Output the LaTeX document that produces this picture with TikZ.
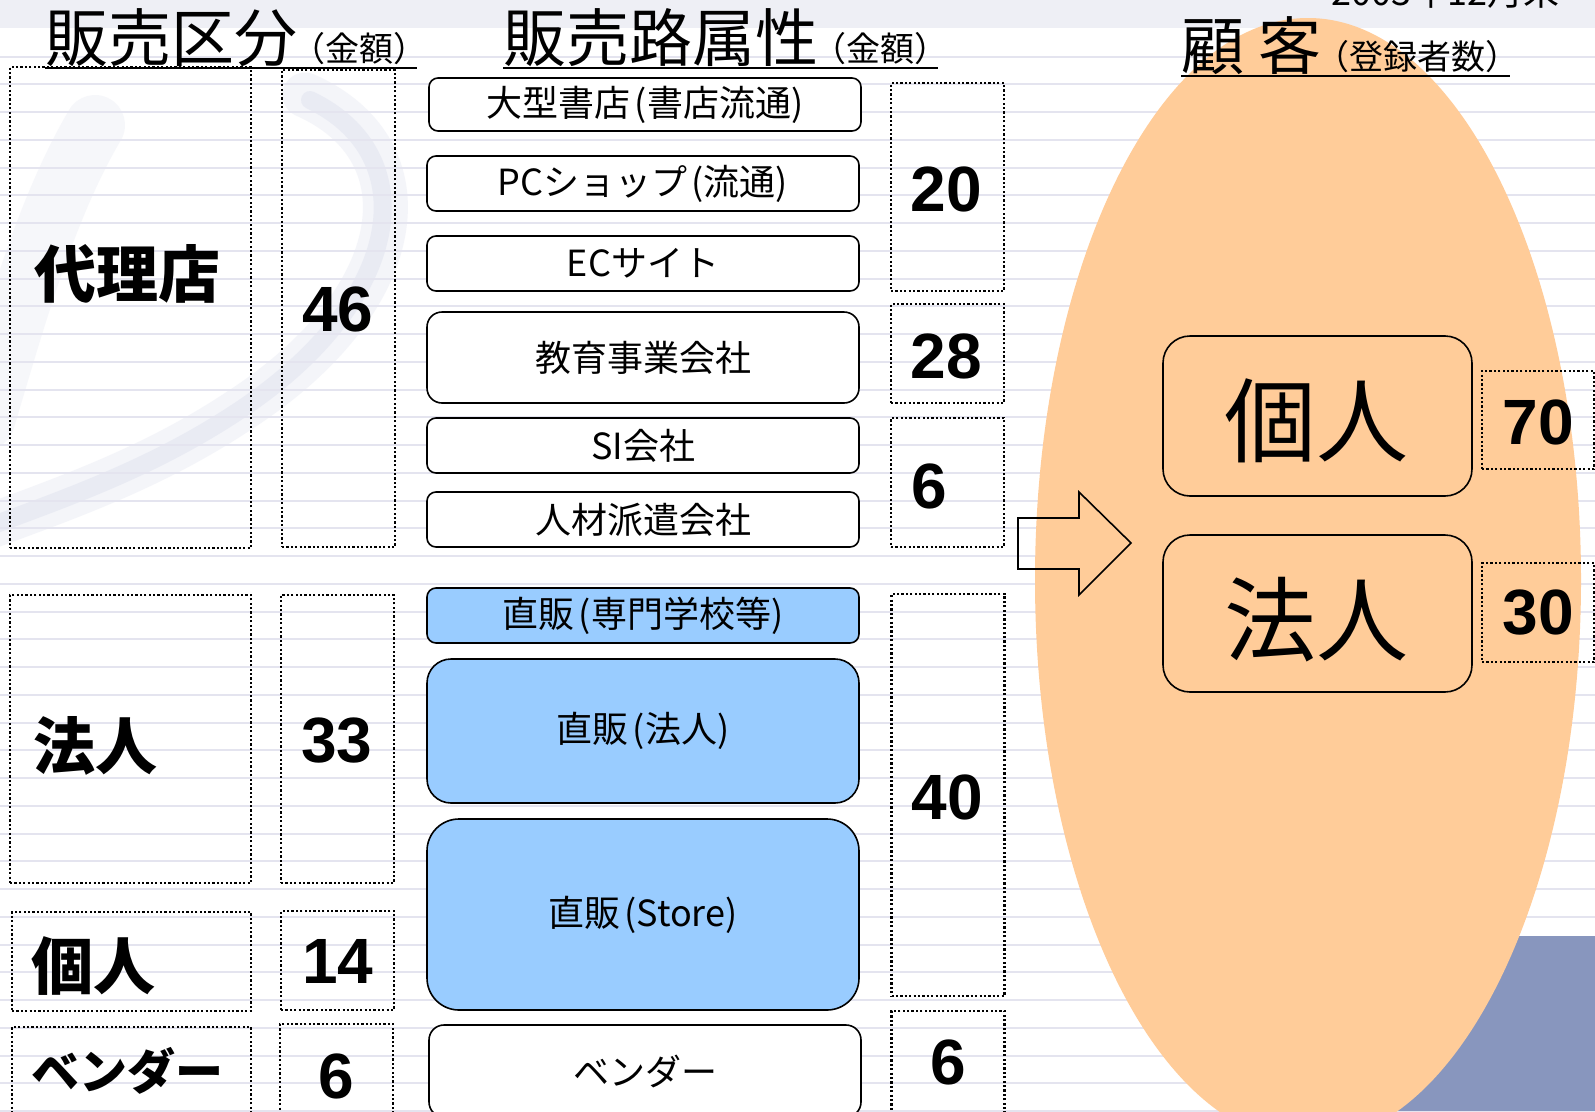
\documentclass[tikz,border=0pt]{standalone}
\usepackage{fontspec}
\setmainfont{Liberation Sans}
\newfontfamily\jpfont{Noto Sans CJK JP}
\usetikzlibrary{positioning}

\definecolor{bandgray}{HTML}{EEEFF5}
\definecolor{rulegray}{HTML}{E4E4EF}
\definecolor{swoosh}{HTML}{D5DAEA}
\definecolor{paleorange}{HTML}{FFCC99}
\definecolor{paleblue}{HTML}{99CCFF}
\definecolor{slateblue}{HTML}{8896BE}

\newcommand{\bigtitle}[1]{{\fontsize{63}{65}\selectfont #1}}
\newcommand{\smalltitle}[1]{{\kern-6pt\fontsize{34}{36}\selectfont #1}}

\begin{document}
\begin{tikzpicture}[x=1pt, y=-1pt, font=\jpfont]

        % Setup the styles for the boxes and the texts
        \tikzset{dotbox/.style={draw, line width=2.2pt,
                                dash pattern=on 2.2pt off 2.2pt,
                                inner sep=0pt},
                 routebox/.style={draw, line width=1.6pt, fill=white,
                                  inner sep=0pt, minimum width=432pt,
                                  rounded corners=9pt,
                                  font=\jpfont\fontsize{36}{38}\selectfont},
                 directbox/.style={routebox, fill=paleblue},
                 custbox/.style={draw, line width=1.6pt, inner sep=0pt,
                                 minimum width=309pt, rounded corners=27pt,
                                 font=\jpfont\fontsize{92}{96}\selectfont},
                 numtext/.style={inner sep=0pt,
                                 font=\normalfont\bfseries\fontsize{64}{70}\selectfont},
                 catlabel/.style={anchor=west, inner sep=0pt,
                                  font=\jpfont\bfseries\fontsize{62}{64}\selectfont},
                 headbig/.style={anchor=base west, inner sep=0pt}}

        \useasboundingbox (0,0) rectangle (1595,1111);
        \clip (0,0) rectangle (1595,1111);

        % Draw the background
        \fill[white] (0,0) rectangle (1595,1111);
        \draw[swoosh, line width=60pt, line cap=round, opacity=0.2]
            (95,125) .. controls (45,210) and (15,320) .. (-15,420);
        \draw[swoosh, line width=45pt, line cap=round, opacity=0.25]
            (305,95) .. controls (430,150) and (410,300) .. (240,410)
            .. controls (150,470) and (60,500) .. (-20,530);
        \draw[swoosh, line width=18pt, line cap=round, opacity=0.35]
            (310,100) .. controls (425,155) and (405,300) .. (240,410)
            .. controls (150,470) and (60,500) .. (-20,530);
        \fill[bandgray] (0,0) rectangle (1595,28);
        \foreach \k in {0,...,38}
            \draw[rulegray, line width=2pt] (0,{56.5+27.75*\k}) -- (1595,{56.5+27.75*\k});
        \fill[slateblue] (1300,936) rectangle (1595,1111);
        \fill[paleorange] (1308,580) ellipse [x radius=273, y radius=562];

        % Draw the titles
        \node[headbig, font=\jpfont\fontsize{36}{40}\selectfont, anchor=base east]
            at (1560,5) (DATE) {2003年12月末};
        \node[headbig] at (45,61)   (HL) {\bigtitle{販売区分}\smalltitle{（金額）}};
        \node[headbig] at (503,61)  (HM) {\bigtitle{販売路属性}\smalltitle{（金額）}};
        \node[headbig] at (1181,69) (HR) {\bigtitle{顧 客}\smalltitle{（登録者数）}};
        \draw[line width=2.5pt] ([yshift=-7pt]HL.base west) -- ([yshift=-7pt,xshift=-10pt]HL.base east);
        \draw[line width=2.5pt] ([yshift=-7pt]HM.base west) -- ([yshift=-7pt,xshift=-10pt]HM.base east);
        \draw[line width=2.5pt] ([yshift=-7pt]HR.base west) -- ([yshift=-7pt,xshift=-10pt]HR.base east);

        % Draw the sales categories
        \node[dotbox, minimum width=241pt, minimum height=481pt] at (130.5,307.5) (AG)  {};
        \node[dotbox, minimum width=113pt, minimum height=477pt] at (338.5,308.5) (AGN) {};
        \node[dotbox, minimum width=241pt, minimum height=288pt] at (130.5,739)   (CO)  {};
        \node[dotbox, minimum width=113pt, minimum height=288pt] at (337.5,739)   (CON) {};
        \node[dotbox, minimum width=239pt, minimum height=99pt]  at (131.5,961.5) (IN)  {};
        \node[dotbox, minimum width=113pt, minimum height=99pt]  at (337.5,960.5) (INN) {};
        \node[dotbox, minimum width=239pt, minimum height=98pt]  at (131.5,1076)  (VE)  {};
        \node[dotbox, minimum width=113pt, minimum height=104pt] at (336.5,1076)  (VEN) {};

        \node[catlabel] at (34,274)  (AGL) {代理店};
        \node[catlabel] at (33,746)  (COL) {法人};
        \node[catlabel] at (31,966)  (INL) {個人};
        \node[catlabel, font=\jpfont\bfseries\fontsize{48}{52}\selectfont]
                        at (31,1071) (VEL) {ベンダー};
        \node[numtext] at (338,309)  (AGV) {46};
        \node[numtext] at (337,741)  (COV) {33};
        \node[numtext] at (338,961)  (INV) {14};
        \node[numtext] at (336,1076) (VEV) {6};

        % Draw the sales routes
        \node[routebox, minimum height=53pt] at (645,104.5) (R1) {大型書店\kern4pt(書店流通)};
        \node[routebox, minimum height=55pt] at (643,183.5) (R2) {PCショップ\kern4pt(流通)};
        \node[routebox, minimum height=55pt] at (643,263.5) (R3) {ECサイト};
        \node[routebox, minimum height=91pt, rounded corners=15pt]
                                             at (643,357.5) (R4) {教育事業会社};
        \node[routebox, minimum height=55pt] at (643,445.5) (R5) {SI会社};
        \node[routebox, minimum height=55pt] at (643,519.5) (R6) {人材派遣会社};
        \node[directbox, minimum height=55pt] at (643,615.5) (D1) {直販\kern4pt(専門学校等)};
        \node[directbox, minimum height=144pt, rounded corners=24pt]
                                              at (643,731)   (D2) {直販\kern4pt(法人)};
        \node[directbox, minimum height=191pt, rounded corners=32pt]
                                              at (643,914.5) (D3) {直販\kern4pt(Store)};
        \node[routebox, minimum height=92pt, rounded corners=15pt]
                                             at (645,1071)  (R7) {ベンダー};

        \node[dotbox, minimum width=113pt, minimum height=208pt] at (947.5,187)   (N1) {};
        \node[dotbox, minimum width=113pt, minimum height=99pt]  at (947.5,353.5) (N2) {};
        \node[dotbox, minimum width=113pt, minimum height=129pt] at (947.5,482.5) (N3) {};
        \node[dotbox, minimum width=113pt, minimum height=402pt] at (948,795)     (N4) {};
        \node[dotbox, minimum width=113pt, minimum height=104pt] at (948,1063)    (N5) {};
        \node[numtext] at (946,189)  (V1) {20};
        \node[numtext] at (946,356)  (V2) {28};
        \node[numtext] at (929,486)  (V3) {6};
        \node[numtext] at (947,797)  (V4) {40};
        \node[numtext] at (948,1062) (V5) {6};

        % Draw the arrow to the customers
        \draw[line width=1.6pt, line join=miter]
            (1018,518) -- (1079,518) -- (1079,492) -- (1131,543)
            -- (1079,595) -- (1079,569) -- (1018,569) -- cycle;

        % Draw the customers
        \node[custbox, minimum height=160pt] at (1317.5,416)   (CI) {};
        \node[custbox, minimum height=157pt] at (1317.5,613.5) (CC) {};
        \node[inner sep=0pt, font=\jpfont\fontsize{92}{96}\selectfont]
            at (1316,421) (CIL) {個人};
        \node[inner sep=0pt, font=\jpfont\fontsize{92}{96}\selectfont]
            at (1316,620) (CCL) {法人};
        \node[dotbox, minimum width=112pt, minimum height=98pt] at (1538,420)   (CIN) {};
        \node[dotbox, minimum width=112pt, minimum height=99pt] at (1538,612.5) (CCN) {};
        \node[numtext] at (1538,422) (CIV) {70};
        \node[numtext] at (1538,613) (CCV) {30};

\end{tikzpicture}
\end{document}
